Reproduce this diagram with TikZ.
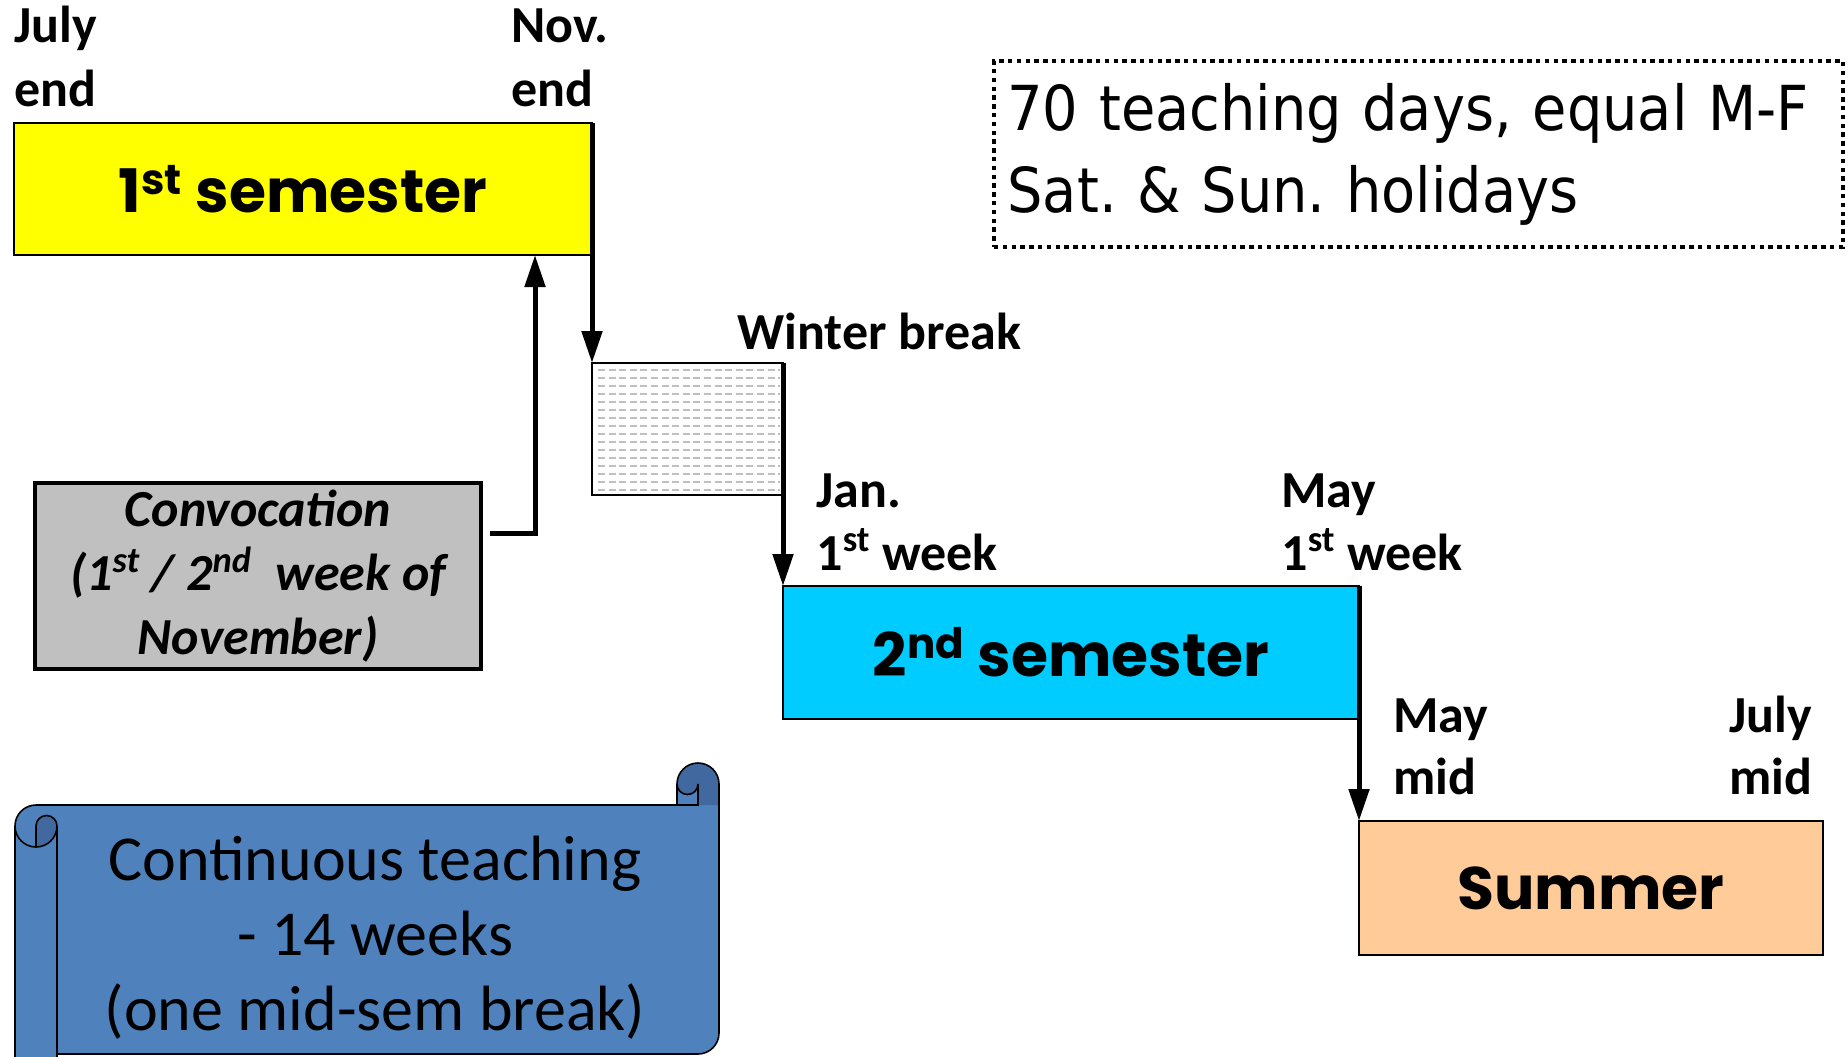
\documentclass[tikz,border=0pt]{standalone}
\usepackage{fontspec}
\setmainfont{Carlito}
\newfontfamily\comicf{Poppins}
\newfontfamily\tahf{DejaVu Sans}[FakeStretch=0.9]
\usetikzlibrary{arrows.meta}
\definecolor{semA}{HTML}{FFFF00}
\definecolor{semB}{HTML}{00CCFF}
\definecolor{summ}{HTML}{FFCC99}
\definecolor{convg}{HTML}{C0C0C0}
\definecolor{scrollA}{HTML}{4F81BD}
\definecolor{scrollB}{HTML}{4169A0}
\definecolor{hatchc}{HTML}{BFBFBF}
\frenchspacing
\begin{document}
\begin{tikzpicture}[x=0.5pt,y=-0.5pt,
  lbl/.style={anchor=base west, inner sep=0pt, font=\fontsize{26}{32}\selectfont\bfseries},
  period/.style={anchor=north west, draw=black, line width=1pt, inner sep=0pt, outer sep=0pt, font=\comicf\bfseries\fontsize{30}{36}\selectfont},
  conn/.style={line width=2.5pt, -{Triangle[length=16pt,width=10pt]}},
  scrollline/.style={draw=black, line width=0.8pt},
]
\useasboundingbox (0,0) rectangle (1848,1056);

% scroll
\begin{scope}
\clip (0,0) rectangle (1848,1056);
\path[fill=scrollA] (15,826) arc[start angle=180,end angle=270,radius=21] -- (677,805) -- (677,784)
  arc[start angle=180,end angle=360,radius=21] -- (719,1033) arc[start angle=0,end angle=90,radius=21]
  -- (57,1054) -- (57,1090) -- (15,1090) -- cycle;
\path[fill=scrollB] (36,847) -- (36,826) arc[start angle=180,end angle=360,radius=10.5]
  arc[start angle=0,end angle=90,radius=21] -- cycle;
\path[fill=scrollB] (677,784) arc[start angle=180,end angle=360,radius=21] -- (719,805) -- (698,805) -- (698,784)
  arc[start angle=0,end angle=180,radius=10.5] -- cycle;
\draw[scrollline] (15,826) arc[start angle=180,end angle=270,radius=21] -- (677,805) -- (677,784)
  arc[start angle=180,end angle=360,radius=21] -- (719,1033) arc[start angle=0,end angle=90,radius=21]
  -- (57,1054) -- (57,1090) -- (15,1090) -- cycle;
\draw[scrollline] (57,826) arc[start angle=0,end angle=180,radius=21];
\draw[scrollline] (57,826) -- (57,1060);
\draw[scrollline] (36,847) -- (36,826) arc[start angle=180,end angle=360,radius=10.5];
\draw[scrollline] (677,805) -- (698,805) -- (698,784) arc[start angle=0,end angle=180,radius=10.5];
\end{scope}
\node[align=center, inner sep=0pt, font=\fontsize{32}{37.5}\selectfont] (scrolltext) at (375,938)
  {Continuous teaching\\- 14 weeks\\(one mid-sem break)};

% period boxes
\node[period, fill=semA, minimum width=289pt, minimum height=66pt] (sem1) at (14,123) {1\textsuperscript{st} semester};
\node[anchor=north west, draw=black, line width=0.8pt, fill=white, minimum width=95.5pt, minimum height=66pt, inner sep=0pt, outer sep=0pt] (winter) at (592,363) {};
\foreach \yy in {370,378,...,490} \draw[hatchc, line width=0.9pt, dash pattern=on 3.5pt off 1.8pt] (598,\yy) -- (780,\yy);
\node[period, fill=semB, minimum width=288pt, minimum height=66.5pt] (sem2) at (783,586) {2\textsuperscript{nd} semester};
\node[period, fill=summ, minimum width=232pt, minimum height=67pt] (summer) at (1359,821) {Summer};

\node[anchor=north west, draw=black, line width=2pt, fill=convg, minimum width=223pt, minimum height=93pt, inner sep=0pt, outer sep=0pt, align=center, font=\fontsize{26}{32}\selectfont\bfseries\itshape] (conv) at (35,483)
  {Convocation\\(1\textsuperscript{st} / 2\textsuperscript{nd}\ \ week of\\November)};

\node[anchor=north west, draw=black, line width=2pt, dash pattern=on 2.2pt off 2.2pt, minimum width=424.5pt, minimum height=93pt, inner sep=0pt, text width=411pt, align=left, font=\tahf\fontsize{31}{41}\selectfont] (note) at (992,59)
  {70 teaching days, equal M-F\\Sat. \& Sun. holidays};

% labels
\node[lbl] (julyA) at (14,42) {July};
\node[lbl] (julyB) at (14,106) {end};
\node[lbl] (novA) at (511,42) {Nov.};
\node[lbl] (novB) at (511,106) {end};
\node[lbl] (wb) at (737,349) {Winter break};
\node[lbl] (janA) at (816,507) {Jan.};
\node[lbl] (janB) at (816,570) {1\textsuperscript{st} week};
\node[lbl] (mayA) at (1281,507) {May};
\node[lbl] (mayB) at (1281,570) {1\textsuperscript{st} week};
\node[lbl] (maymA) at (1393,732) {May};
\node[lbl] (maymB) at (1393,794) {mid};
\node[lbl] (julmA) at (1729,732) {July};
\node[lbl] (julmB) at (1729,794) {mid};

% connectors
\draw[conn] (sem1.north east) -- (winter.north west);
\draw[conn] (winter.north east) -- (sem2.north west);
\draw[conn] (sem2.north east) -- (summer.north west);
\coordinate (cstart) at (490,533);
\coordinate (cbend) at (535,533);
\draw[conn] (cstart) -- (cbend) -- (cbend |- sem1.south);
\end{tikzpicture}
\end{document}
